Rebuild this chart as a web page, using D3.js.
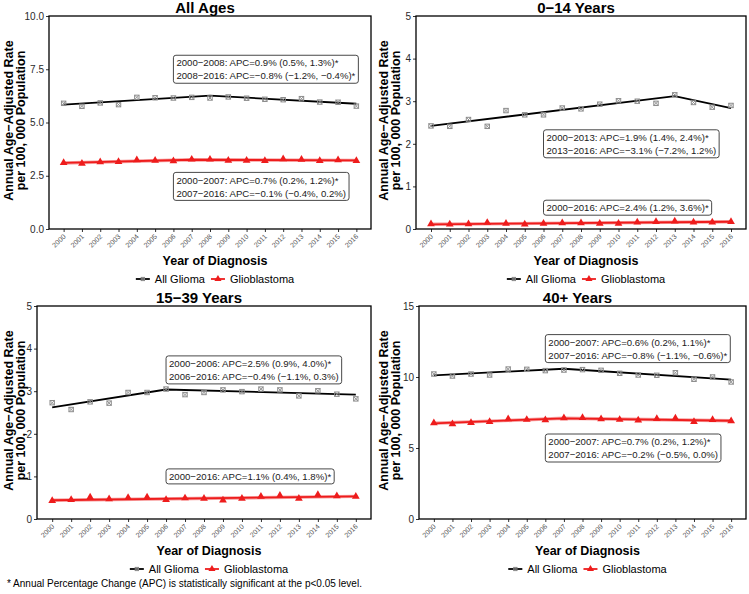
<!DOCTYPE html>
<html>
<head>
<meta charset="utf-8">
<script src="https://cdn.jsdelivr.net/npm/d3@7"></script>
<style>
  body { margin: 0; background: #fff; }
  svg { font-family: "Liberation Sans", Arial, sans-serif; }
</style>
</head>
<body>
<svg id="chart" width="749" height="594"></svg>
<script>
// ---- data ----
const years = [2000, 2001, 2002, 2003, 2004, 2005, 2006, 2007, 2008, 2009, 2010, 2011, 2012, 2013, 2014, 2015, 2016];

const allAgesGlioma = [5.90, 5.76, 5.92, 5.84, 6.18, 6.16, 6.15, 6.18, 6.15, 6.20, 6.14, 6.09, 6.07, 6.12, 5.96, 5.95, 5.77];
const allAgesGbm    = [3.11, 3.08, 3.15, 3.16, 3.24, 3.22, 3.19, 3.27, 3.27, 3.22, 3.22, 3.20, 3.29, 3.26, 3.20, 3.24, 3.20];
const allAgesGliomaFitYears = [2000, 2008, 2016];
const allAgesGliomaFit      = [5.84, 6.26, 5.88];
const allAgesGbmFitYears = [2000, 2007, 2016];
const allAgesGbmFit      = [3.10, 3.25, 3.22];

const childGlioma = [2.42, 2.41, 2.57, 2.41, 2.78, 2.68, 2.68, 2.84, 2.82, 2.93, 3.01, 3.00, 2.95, 3.15, 2.97, 2.86, 2.90];
const childGbm    = [0.12, 0.11, 0.12, 0.15, 0.13, 0.11, 0.13, 0.14, 0.14, 0.13, 0.13, 0.16, 0.17, 0.18, 0.16, 0.16, 0.17];
const childGliomaFitYears = [2000, 2013, 2016];
const childGliomaFit      = [2.42, 3.12, 2.84];
const childGbmFitYears = [2000, 2016];
const childGbmFit      = [0.11, 0.17];

const ayaGlioma = [2.73, 2.57, 2.75, 2.72, 2.97, 2.97, 3.05, 2.92, 2.97, 3.03, 2.99, 3.05, 3.03, 2.89, 3.01, 2.93, 2.82];
const ayaGbm    = [0.43, 0.45, 0.51, 0.47, 0.50, 0.51, 0.45, 0.49, 0.48, 0.44, 0.48, 0.53, 0.55, 0.48, 0.57, 0.54, 0.53];
const ayaGliomaFitYears = [2000, 2006, 2016];
const ayaGliomaFit      = [2.62, 3.04, 2.92];
const ayaGbmFitYears = [2000, 2016];
const ayaGbmFit      = [0.44, 0.53];

const adultGlioma = [10.21, 10.07, 10.21, 10.14, 10.56, 10.54, 10.45, 10.49, 10.52, 10.47, 10.26, 10.14, 10.12, 10.30, 9.84, 10.00, 9.65];
const adultGbm    = [6.76, 6.69, 6.78, 6.85, 7.04, 7.00, 6.97, 7.11, 7.13, 7.04, 7.00, 6.95, 7.06, 7.09, 6.85, 6.99, 6.90];
const adultGliomaFitYears = [2000, 2007, 2016];
const adultGliomaFit      = [10.12, 10.58, 9.81];
const adultGbmFitYears = [2000, 2007, 2016];
const adultGbmFit      = [6.74, 7.09, 6.92];

const allAgesGliomaApc = ["2000\u22122008: APC=0.9% (0.5%, 1.3%)*", "2008\u22122016: APC=\u22120.8% (\u22121.2%, \u22120.4%)*"];
const allAgesGbmApc    = ["2000\u22122007: APC=0.7% (0.2%, 1.2%)*", "2007\u22122016: APC=\u22120.1% (\u22120.4%, 0.2%)"];
const childGliomaApc   = ["2000\u22122013: APC=1.9% (1.4%, 2.4%)*", "2013\u22122016: APC=\u22123.1% (\u22127.2%, 1.2%)"];
const childGbmApc      = ["2000\u22122016: APC=2.4% (1.2%, 3.6%)*"];
const ayaGliomaApc     = ["2000\u22122006: APC=2.5% (0.9%, 4.0%)*", "2006\u22122016: APC=\u22120.4% (\u22121.1%, 0.3%)"];
const ayaGbmApc        = ["2000\u22122016: APC=1.1% (0.4%, 1.8%)*"];
const adultGliomaApc   = ["2000\u22122007: APC=0.6% (0.2%, 1.1%)*", "2007\u22122016: APC=\u22120.8% (\u22121.1%, \u22120.6%)*"];
const adultGbmApc      = ["2000\u22122007: APC=0.7% (0.2%, 1.2%)*", "2007\u22122016: APC=\u22120.2% (\u22120.5%, 0.0%)"];

const seriesNames = ["All Glioma", "Glioblastoma"];

// ---- panel layout ----
const panels = [
  { title: "All Ages", ox: 0, oy: 0, box: { l: 49, t: 16, r: 371, b: 229 }, yMax: 10, yTicks: [0, 2.5, 5, 7.5, 10], fmt: d3.format(".1f"),
    glioma: allAgesGlioma, gbm: allAgesGbm,
    gliomaFit: [allAgesGliomaFitYears, allAgesGliomaFit], gbmFit: [allAgesGbmFitYears, allAgesGbmFit],
    notes: [{ lines: allAgesGliomaApc, y: 7.5 }, { lines: allAgesGbmApc, y: 2.0 }] },
  { title: "0\u221214 Years", ox: 375, oy: 0, box: { l: 416, t: 16, r: 746, b: 229 }, yMax: 5, yTicks: [0, 1, 2, 3, 4, 5], fmt: d3.format("d"),
    glioma: childGlioma, gbm: childGbm,
    gliomaFit: [childGliomaFitYears, childGliomaFit], gbmFit: [childGbmFitYears, childGbmFit],
    notes: [{ lines: childGliomaApc, y: 2.0 }, { lines: childGbmApc, y: 0.5 }] },
  { title: "15\u221239 Years", ox: 0, oy: 290, box: { l: 37, t: 306, r: 371, b: 519 }, yMax: 5, yTicks: [0, 1, 2, 3, 4, 5], fmt: d3.format("d"),
    glioma: ayaGlioma, gbm: ayaGbm,
    gliomaFit: [ayaGliomaFitYears, ayaGliomaFit], gbmFit: [ayaGbmFitYears, ayaGbmFit],
    notes: [{ lines: ayaGliomaApc, y: 3.5 }, { lines: ayaGbmApc, y: 1.0 }] },
  { title: "40+ Years", ox: 375, oy: 290, box: { l: 419, t: 306, r: 746, b: 519 }, yMax: 15, yTicks: [0, 5, 10, 15], fmt: d3.format("d"),
    glioma: adultGlioma, gbm: adultGbm,
    gliomaFit: [adultGliomaFitYears, adultGliomaFit], gbmFit: [adultGbmFitYears, adultGbmFit],
    notes: [{ lines: adultGliomaApc, y: 12 }, { lines: adultGbmApc, y: 5 }] }
];

const RED = "#ee1c1c";
const svg = d3.select("#chart");

function gliomaMark(sel, s, color) {
  // square with a cross, like ggplot shape 7
  sel.append("rect").attr("x", -s).attr("y", -s).attr("width", 2 * s).attr("height", 2 * s)
    .attr("fill", "none").attr("stroke", color).attr("stroke-width", 1);
  sel.append("path").attr("d", `M${-s},${-s}L${s},${s}M${-s},${s}L${s},${-s}`)
    .attr("stroke", color).attr("stroke-width", 0.9);
}

panels.forEach(p => {
  const b = p.box;
  const g = svg.append("g");

  const x = d3.scaleLinear().domain([2000 - 0.8, 2016 + 0.8]).range([b.l, b.r]);
  const y = d3.scaleLinear().domain([0, p.yMax]).range([b.b, b.t]);

  // y axis
  const ya = g.append("g").attr("transform", `translate(${b.l},0)`)
    .call(d3.axisLeft(y).tickValues(p.yTicks).tickFormat(p.fmt).tickSize(3).tickPadding(2));
  ya.select(".domain").remove();
  ya.selectAll("line").attr("stroke", "#333");
  ya.selectAll("text").attr("font-size", "10px").attr("fill", "#2a2a2a")
    .attr("font-family", "Liberation Sans, Arial, sans-serif");

  // x axis
  const xa = g.append("g").attr("transform", `translate(0,${b.b})`)
    .call(d3.axisBottom(x).tickValues(years).tickFormat(d3.format("d")).tickSize(3));
  xa.select(".domain").remove();
  xa.selectAll("line").attr("stroke", "#333");
  xa.selectAll("text")
    .attr("font-size", "7px").attr("fill", "#555")
    .attr("font-family", "Liberation Sans, Arial, sans-serif")
    .attr("text-anchor", "end")
    .attr("y", 0).attr("dy", 0)
    .attr("transform", "translate(2,8) rotate(-45)");

  // fitted joinpoint lines
  const line = d3.line().x(d => x(d[0])).y(d => y(d[1]));
  g.append("path").datum(d3.zip(p.gbmFit[0], p.gbmFit[1]))
    .attr("d", line).attr("fill", "none").attr("stroke", "#f7a0a0").attr("stroke-width", 3.4);
  g.append("path").datum(d3.zip(p.gbmFit[0], p.gbmFit[1]))
    .attr("d", line).attr("fill", "none").attr("stroke", RED).attr("stroke-width", 1.8);
  g.append("path").datum(d3.zip(p.gliomaFit[0], p.gliomaFit[1]))
    .attr("d", line).attr("fill", "none").attr("stroke", "#000").attr("stroke-width", 1.8);

  // observed points
  g.selectAll(".gl").data(d3.zip(years, p.glioma)).join("g")
    .attr("transform", d => `translate(${x(d[0])},${y(d[1])})`)
    .each(function () { gliomaMark(d3.select(this), 2.2, "#8c8c8c"); });
  g.selectAll(".gb").data(d3.zip(years, p.gbm)).join("path")
    .attr("transform", d => `translate(${x(d[0])},${y(d[1])})`)
    .attr("d", d3.symbol(d3.symbolTriangle, 26)).attr("fill", RED);

  // APC labels
  p.notes.forEach(n => {
    const lg = g.append("g");
    const fs = 9.6, lh = 13, pad = 3;
    const texts = lg.selectAll("text").data(n.lines).join("text")
      .attr("font-size", fs + "px").attr("fill", "#1a1a1a")
      .text(d => d);
    const w = d3.max(texts.nodes(), t => t.getComputedTextLength());
    const h = n.lines.length * lh + 2;
    const x0 = x(2006), y0 = y(n.y) - h / 2;
    texts.attr("x", x0 + pad).attr("y", (d, i) => y0 + 1 + lh * i + lh * 0.78);
    lg.insert("rect", "text").attr("x", x0).attr("y", y0).attr("width", w + 2 * pad).attr("height", h)
      .attr("rx", 2.5).attr("fill", "#fff").attr("stroke", "#333").attr("stroke-width", 0.9);
  });

  // panel border
  g.append("rect").attr("x", b.l).attr("y", b.t).attr("width", b.r - b.l).attr("height", b.b - b.t)
    .attr("fill", "none").attr("stroke", "#000").attr("stroke-width", 1.3);

  const cx = (b.l + b.r) / 2;

  // title
  g.append("text").attr("x", cx - 5).attr("y", b.t - 3)
    .attr("text-anchor", "middle").attr("font-size", "15px").attr("font-weight", "bold")
    .text(p.title);

  // x title
  g.append("text").attr("x", cx + 5).attr("y", b.b + 36)
    .attr("text-anchor", "middle").attr("font-size", "12.5px").attr("font-weight", "bold")
    .text("Year of Diagnosis");

  // y title (two lines, kept left of the tick labels)
  const yt = g.append("text")
    .attr("transform", `translate(${p.ox + 13},${(b.t + b.b) / 2 - 2}) rotate(-90)`)
    .attr("text-anchor", "middle").attr("font-size", "12.5px").attr("font-weight", "bold");
  yt.append("tspan").attr("x", 0).attr("y", 0).text("Annual Age\u2212Adjusted Rate");
  yt.append("tspan").attr("x", 0).attr("y", 12).text("per 100, 000 Population");

  // legend
  const leg = g.append("g");
  const ly = b.b + 50;
  let lx = 0;
  seriesNames.forEach((name, i) => {
    const it = leg.append("g");
    it.append("line").attr("x1", 0).attr("x2", 14).attr("y1", 0).attr("y2", 0)
      .attr("stroke", i === 0 ? "#000" : RED).attr("stroke-width", 1.8);
    if (i === 0) {
      it.append("g").attr("transform", "translate(7,0)").each(function () { gliomaMark(d3.select(this), 1.6, "#888"); });
    } else {
      it.append("path").attr("transform", "translate(7,0)").attr("d", d3.symbol(d3.symbolTriangle, 22)).attr("fill", RED);
    }
    const t = it.append("text").attr("x", 19).attr("y", 4).attr("font-size", "11px").text(name);
    const w = 19 + t.node().getComputedTextLength();
    it.attr("transform", `translate(${lx},0)`);
    lx += w + 6;
  });
  const legW = lx - 6;
  leg.attr("transform", `translate(${cx + 5 - legW / 2},${ly})`);
});

// footnote
svg.append("text").attr("x", 7).attr("y", 587).attr("font-size", "10px")
  .text("* Annual Percentage Change (APC) is statistically significant at the p<0.05 level.");
</script>
</body>
</html>
